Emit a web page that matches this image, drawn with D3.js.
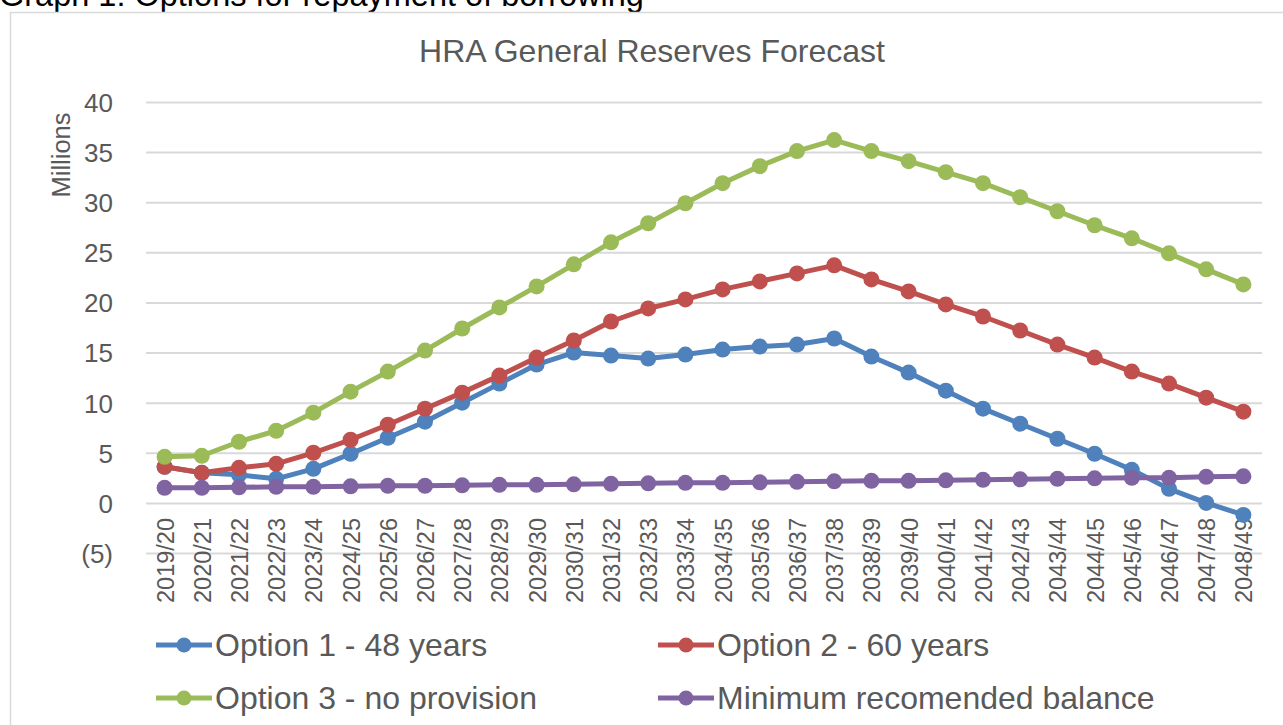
<!DOCTYPE html>
<html>

<head>
    <script src='https://cdn.jsdelivr.net/npm/d3@7'></script>
    <style>
        body { margin: 0; background: #fff; overflow: hidden; }
        text { font-family: 'Liberation Sans', Arial, sans-serif; }
    </style>
</head>

<body>
    <svg width='1283' height='725'></svg>
</body>

<script>

    // data (millions)

    var years = ['2019/20', '2020/21', '2021/22', '2022/23', '2023/24', '2024/25', '2025/26', '2026/27',
        '2027/28', '2028/29', '2029/30', '2030/31', '2031/32', '2032/33', '2033/34', '2034/35', '2035/36',
        '2036/37', '2037/38', '2038/39', '2039/40', '2040/41', '2041/42', '2042/43', '2043/44', '2044/45',
        '2045/46', '2046/47', '2047/48', '2048/49'];

    var option1 = [3.6, 3.0, 2.8, 2.4, 3.4, 4.9, 6.5, 8.1, 10.0, 11.9, 13.8, 15.0, 14.7, 14.4, 14.8,
        15.3, 15.6, 15.8, 16.4, 14.6, 13.0, 11.2, 9.4, 7.9, 6.4, 4.9, 3.3, 1.4, 0.0, -1.2];

    var option2 = [3.6, 3.0, 3.5, 3.9, 5.0, 6.3, 7.8, 9.4, 11.0, 12.7, 14.5, 16.2, 18.1, 19.4, 20.3,
        21.3, 22.1, 22.9, 23.7, 22.3, 21.1, 19.8, 18.6, 17.2, 15.8, 14.5, 13.1, 11.9, 10.5, 9.1];

    var option3 = [4.6, 4.7, 6.1, 7.2, 9.0, 11.1, 13.1, 15.2, 17.4, 19.5, 21.6, 23.8, 26.0, 27.9, 29.9,
        31.9, 33.6, 35.1, 36.2, 35.1, 34.1, 33.0, 31.9, 30.5, 29.1, 27.7, 26.4, 24.9, 23.3, 21.8];

    var minimum = [1.5, 1.5, 1.55, 1.6, 1.6, 1.65, 1.7, 1.7, 1.75, 1.8, 1.8, 1.85, 1.9, 1.95, 2.0,
        2.0, 2.05, 2.1, 2.15, 2.2, 2.2, 2.25, 2.3, 2.35, 2.4, 2.45, 2.5, 2.5, 2.6, 2.65];

    var seriesNames = ['Option 1 - 48 years', 'Option 2 - 60 years', 'Option 3 - no provision', 'Minimum recomended balance'];
    var yTicks = [-5, 0, 5, 10, 15, 20, 25, 30, 35, 40];

    var colors = ['#4f81bd', '#c0504d', '#9bbb59', '#8064a2'];
    var grey = '#595959';

    var series = [option1, option2, option3, minimum].map(function (vals, i) {
        return { name: seriesNames[i], color: colors[i], values: vals };
    });

    var svg = d3.select('svg');

    // caption above the chart, mostly cut off by the page edge (as in the original)

    svg.append('text')
        .attr('x', -1)
        .attr('y', 6)
        .attr('font-size', 32.5)
        .attr('fill', '#000')
        .text('Graph 1: Options for repayment of borrowing');

    // chart frame

    svg.append('rect')
        .attr('x', 10.5)
        .attr('y', 12.5)
        .attr('width', 1400)
        .attr('height', 800)
        .attr('fill', '#fff')
        .attr('stroke', '#d9d9d9')
        .attr('stroke-width', 1.5);

    svg.append('text')
        .attr('x', 652)
        .attr('y', 62)
        .attr('text-anchor', 'middle')
        .attr('font-size', 32)
        .attr('fill', grey)
        .text('HRA General Reserves Forecast');

    // scales

    var x = d3.scalePoint()
        .domain(years)
        .range([146, 1262])
        .padding(0.5);

    var y = d3.scaleLinear()
        .domain([-5, 40])
        .range([553, 102]);

    // gridlines + y labels

    var yAxis = svg.append('g')
        .attr('transform', 'translate(146,0)')
        .call(d3.axisLeft(y)
            .tickValues(yTicks)
            .tickSize(-1116)
            .tickPadding(33)
            .tickFormat(function (d) { return d < 0 ? '(' + Math.abs(d) + ')' : d; }));

    yAxis.select('.domain').remove();
    yAxis.selectAll('line').attr('stroke', '#d9d9d9').attr('stroke-width', 2);
    yAxis.selectAll('text')
        .attr('font-size', 26)
        .attr('font-family', "'Liberation Sans', Arial, sans-serif")
        .attr('fill', grey)
        .attr('dy', '0.36em');

    svg.append('text')
        .attr('transform', 'translate(70,155) rotate(-90)')
        .attr('text-anchor', 'middle')
        .attr('font-size', 25.5)
        .attr('fill', grey)
        .text('Millions');

    // x labels, rotated, hanging below the zero line

    var xAxis = svg.append('g')
        .attr('transform', 'translate(0,503)')
        .call(d3.axisBottom(x).tickSize(0).tickPadding(0));

    xAxis.select('.domain').remove();
    xAxis.selectAll('text')
        .attr('font-size', 23.5)
        .attr('font-family', "'Liberation Sans', Arial, sans-serif")
        .attr('fill', grey)
        .attr('text-anchor', 'end')
        .attr('transform', 'rotate(-90)')
        .attr('x', -15)
        .attr('y', 0)
        .attr('dy', '0.36em');

    // lines and markers, drawn in series order so later ones sit on top

    var line = d3.line()
        .x(function (d, i) { return x(years[i]); })
        .y(function (d) { return y(d); });

    series.forEach(function (s) {
        var g = svg.append('g');
        g.append('path')
            .datum(s.values)
            .attr('fill', 'none')
            .attr('stroke', s.color)
            .attr('stroke-width', 5)
            .attr('stroke-linejoin', 'round')
            .attr('d', line);
        g.selectAll('circle')
            .data(s.values)
            .enter()
            .append('circle')
            .attr('cx', function (d, i) { return x(years[i]); })
            .attr('cy', function (d) { return y(d); })
            .attr('r', 8)
            .attr('fill', s.color);
    });

    // legend, two rows of two

    var legendPos = [[156, 645], [658, 645], [156, 698], [658, 698]];

    var legend = svg.selectAll('.legend')
        .data(series)
        .enter()
        .append('g')
        .attr('class', 'legend')
        .attr('transform', function (d, i) { return 'translate(' + legendPos[i][0] + ',' + legendPos[i][1] + ')'; });

    legend.append('line')
        .attr('x1', 0)
        .attr('x2', 56)
        .attr('stroke', function (d) { return d.color; })
        .attr('stroke-width', 5);

    legend.append('circle')
        .attr('cx', 28)
        .attr('r', 7.5)
        .attr('fill', function (d) { return d.color; });

    legend.append('text')
        .attr('x', 59)
        .attr('y', 11)
        .attr('font-size', 32)
        .attr('fill', grey)
        .text(function (d) { return d.name; });

</script>

</html>
